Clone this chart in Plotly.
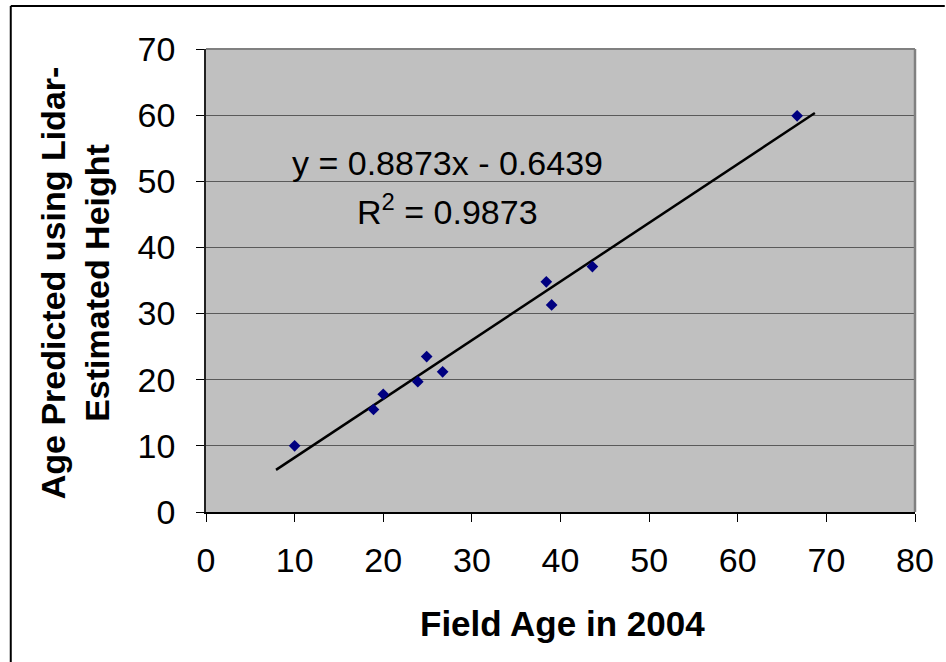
import plotly.graph_objects as go

# Data
field_age = [10.0, 18.9, 20.0, 23.9, 24.9, 26.7, 38.4, 39.0, 43.6, 66.7]
predicted_age = [10.0, 15.5, 17.8, 19.7, 23.5, 21.2, 34.8, 31.3, 37.1, 59.9]
slope = 0.8873
intercept = -0.6439
r_squared = 0.9873
trend_x = [7.9, 68.7]
x_ticks = [0, 10, 20, 30, 40, 50, 60, 70, 80]
y_ticks = [0, 10, 20, 30, 40, 50, 60, 70]

trend_y = [slope * v + intercept for v in trend_x]

W, H = 946, 662
L, R, T, B = 205.7, 26, 49, 150
pw, ph = W - L - R, H - T - B

def px(xp):
    return (xp - L) / pw

def py(yp):
    return (H - B - yp) / ph

FONT = "Liberation Sans, Arial, sans-serif"

fig = go.Figure()
fig.add_trace(go.Scatter(
    x=trend_x, y=trend_y, mode="lines",
    line=dict(color="black", width=2.5), showlegend=False, hoverinfo="skip"))
fig.add_trace(go.Scatter(
    x=field_age, y=predicted_age, mode="markers",
    marker=dict(symbol="diamond", size=9, color="#000080"),
    showlegend=False))

fig.update_layout(
    width=W, height=H,
    margin=dict(l=L, r=R, t=T, b=B, pad=0),
    paper_bgcolor="white", plot_bgcolor="#C0C0C0",
    font=dict(family=FONT, size=34, color="black"),
    xaxis=dict(range=[0, 80], tickvals=x_ticks, ticks="outside", ticklen=8,
               tickcolor="black", tickwidth=1, showgrid=False, zeroline=False,
               showline=True, linecolor="black", linewidth=1.5,
               ticklabelstandoff=9, tickfont=dict(size=34)),
    yaxis=dict(range=[0, 70], tickvals=y_ticks, ticks="outside", ticklen=8,
               tickcolor="black", tickwidth=1, showgrid=True, gridcolor="#5a5a5a",
               gridwidth=1.2, zeroline=False, showline=True, linecolor="#222",
               linewidth=1.5, ticklabelstandoff=14, tickfont=dict(size=34)),
    shapes=[
        # plot area border (top / right gray)
        dict(type="line", xref="paper", yref="paper", x0=0, x1=1, y0=1, y1=1,
             line=dict(color="#808080", width=2)),
        dict(type="line", xref="paper", yref="paper", x0=1, x1=1, y0=0, y1=1,
             line=dict(color="#808080", width=2.5)),
        # outer chart border
        dict(type="line", xref="paper", yref="paper", x0=px(9), x1=px(950),
             y0=py(6), y1=py(6), line=dict(color="black", width=2)),
        dict(type="line", xref="paper", yref="paper", x0=px(9), x1=px(9),
             y0=py(6), y1=py(670), line=dict(color="black", width=2)),
    ],
    annotations=[
        dict(x=27.2, y=52.8, xref="x", yref="y", showarrow=False,
             text=f"y = {slope}x - {abs(intercept)}", font=dict(size=34)),
        dict(x=27.3, y=45.8, xref="x", yref="y", showarrow=False,
             text=f"R<sup>2</sup> = {r_squared}", font=dict(size=34)),
        dict(x=px(565), y=py(623), xref="paper", yref="paper", showarrow=False,
             xanchor="center", yanchor="middle",
             text="<b>Field Age in 2004</b>", font=dict(size=35)),
        dict(x=px(74), y=py(283), xref="paper", yref="paper", showarrow=False,
             xanchor="center", yanchor="middle", textangle=-90,
             text="<b>Age Predicted using Lidar-<br>Estimated Height</b>",
             font=dict(size=34)),
    ],
)

fig.write_html("out.html")
